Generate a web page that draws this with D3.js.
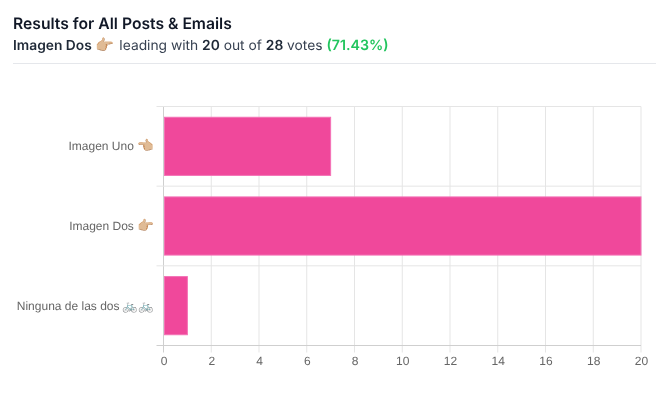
<!DOCTYPE html>
<html lang="en">
<head>
  <meta charset="UTF-8">
  <title>Results for All Posts & Emails</title>
  <script src="https://cdnjs.cloudflare.com/ajax/libs/d3/7.0.0/d3.min.js"></script>
  <style>
    html, body { margin: 0; background: #fff; }
    #chart { will-change: transform; }
    text { font-family: "Liberation Sans", Arial, sans-serif; text-rendering: geometricPrecision; }
    .head text { font-family: Inter, sans-serif; }
  </style>
</head>
<body>
  <div id="chart"></div>
  <script>
    const categories = ["Imagen Uno", "Imagen Dos", "Ninguna de las dos"];
    const categoryEmoji = ["👈🏼", "👉🏼", "🚲🚲"];
    const votes = [7, 20, 1];
    const xTicks = [0, 2, 4, 6, 8, 10, 12, 14, 16, 18, 20];

    const width = 669, height = 394;
    const margin = { top: 106.5, right: 28, bottom: 48.5, left: 163.5 };

    const svg = d3.select("#chart").append("svg")
      .attr("width", width)
      .attr("height", height)
      .style("display", "block");

    // header
    const head = svg.append("g").attr("class", "head");
    head.append("text")
      .attr("x", 13).attr("y", 29)
      .style("font-size", "15.7px").style("font-weight", 600).attr("fill", "#111827")
      .text("Results for All Posts & Emails");

    const sub = head.append("text")
      .attr("x", 13).attr("y", 50)
      .style("font-size", "13.8px").attr("fill", "#374151");
    sub.append("tspan").style("font-weight", 600).attr("fill", "#1f2937").text("Imagen Dos ");
    sub.append("tspan").style("font-size", "15px").text("👉🏼");
    sub.append("tspan").attr("dx", 1.5).text(" leading with ");
    sub.append("tspan").style("font-weight", 600).attr("fill", "#1f2937").text("20");
    sub.append("tspan").text(" out of ");
    sub.append("tspan").style("font-weight", 600).attr("fill", "#1f2937").text("28");
    sub.append("tspan").text(" votes ");
    sub.append("tspan").style("font-weight", 600).style("font-size", "14.2px").attr("fill", "#22c55e").text("(71.43%)");

    head.append("line")
      .attr("x1", 13).attr("x2", 656)
      .attr("y1", 63.5).attr("y2", 63.5)
      .attr("stroke", "#e5e7eb");

    // scales
    const x = d3.scaleLinear()
      .domain([0, 20])
      .range([margin.left, width - margin.right]);

    const y = d3.scaleBand()
      .domain(categories)
      .range([margin.top, height - margin.bottom])
      .paddingInner(0.27)
      .paddingOuter(0.135);

    const bandEdges = d3.range(categories.length + 1)
      .map(i => margin.top + i * (height - margin.bottom - margin.top) / categories.length);

    // grid
    svg.append("g").selectAll("line")
      .data(xTicks)
      .enter().append("line")
      .attr("x1", d => x(d)).attr("x2", d => x(d))
      .attr("y1", margin.top).attr("y2", height - margin.bottom + 7)
      .attr("stroke", d => d === 0 ? "#cfcfcf" : "#e5e5e5");

    svg.append("g").selectAll("line")
      .data(bandEdges)
      .enter().append("line")
      .attr("x1", margin.left - 7).attr("x2", width - margin.right)
      .attr("y1", d => d).attr("y2", d => d)
      .attr("stroke", (d, i) => i === categories.length ? "#cfcfcf" : "#e5e5e5");

    // bars
    svg.append("g").selectAll("rect")
      .data(votes)
      .enter().append("rect")
      .attr("x", x(0) + 1)
      .attr("y", (d, i) => y(categories[i]))
      .attr("width", d => x(d) - x(0) - 1)
      .attr("height", y.bandwidth())
      .attr("fill", "#f0489b")
      .attr("stroke", "#f472b6")
      .attr("stroke-width", 1);

    // axes
    const xAxis = svg.append("g")
      .attr("transform", `translate(0,${height - margin.bottom})`)
      .call(d3.axisBottom(x).tickValues(xTicks).tickSize(0).tickPadding(11));
    xAxis.select(".domain").remove();
    xAxis.selectAll("text")
      .style("font-size", "12px")
      .style("font-family", "'Liberation Sans', sans-serif")
      .attr("fill", "#666");

    const yAxis = svg.append("g")
      .attr("transform", `translate(${margin.left},0)`)
      .call(d3.axisLeft(y).tickSize(0).tickPadding(9.5));
    yAxis.select(".domain").remove();
    yAxis.selectAll("text")
      .style("font-size", "12px")
      .style("font-family", "'Liberation Sans', sans-serif")
      .attr("fill", "#666")
      .text(null)
      .each(function (d, i) {
        const t = d3.select(this);
        t.append("tspan").text(d + " ");
        t.append("tspan").style("font-size", i === 2 ? "12.5px" : "13.5px").text(categoryEmoji[i]);
      });
  </script>
</body>
</html>
